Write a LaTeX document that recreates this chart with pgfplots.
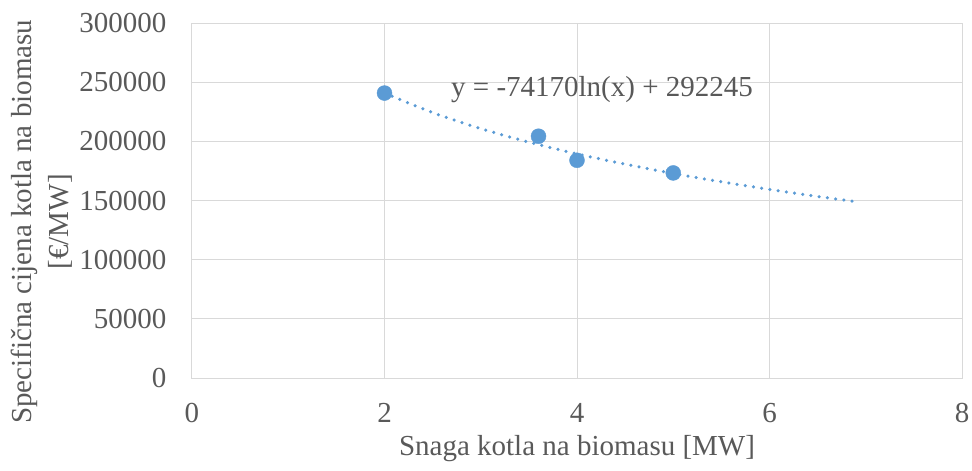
\documentclass[border=0pt]{standalone}
\usepackage{fontspec}
\setmainfont{Liberation Serif}
\usepackage{pgfplots}
\pgfplotsset{compat=1.18}
\definecolor{ptblue}{HTML}{5B9BD5}
\definecolor{gridgray}{HTML}{D9D9D9}
\definecolor{txtgray}{HTML}{595959}
\begin{document}
\begin{tikzpicture}
\begin{axis}[
  scale only axis, width=770bp, height=355bp,
  xmin=0, xmax=8, ymin=0, ymax=300000,
  xtick={0,2,4,6,8}, ytick={0,50000,100000,150000,200000,250000,300000},
  grid=major, major grid style={gridgray, line width=1bp},
  axis line style={gridgray, line width=1bp},
  major tick length=0pt,
  tick label style={font=\fontsize{29bp}{31bp}\selectfont, text=txtgray},
  xticklabel style={yshift=-22bp},
  yticklabel style={xshift=-22bp},
  /pgf/number format/fixed,
  /pgf/number format/assume math mode=true,
  /pgf/number format/1000 sep={},
  scaled y ticks=false,
  label style={font=\fontsize{29bp}{37bp}\selectfont, text=txtgray},
  xlabel={Snaga kotla na biomasu [MW]},
  xlabel style={at={(axis description cs:0.5,-0.2)}, anchor=center},
  ylabel={Specifična cijena kotla na biomasu\\{}[€/MW]},
  ylabel style={align=center, at={(axis description cs:-0.195,0.44)}, anchor=center},
  clip=false,
]
\addplot[ptblue, line width=3.5bp, line cap=round, dash pattern=on 0bp off 8.3bp, smooth]
 coordinates {(2,240834) (2.5,224284) (3,210761) (3.5,199328) (4,189424) (4.5,180688)
 (5,172873) (5.5,165804) (6,159350) (6.5,153413) (6.92,148769)};
\addplot[only marks, mark=*, mark size=7.5bp, color=ptblue, mark options={fill=ptblue, draw=ptblue}]
 coordinates {(2,240800) (3.6,204300) (4,184000) (5,173300)};
\node[text=txtgray, font=\fontsize{29bp}{31bp}\selectfont] at (axis cs:4.26,244000) {y = -74170ln(x) + 292245};
\end{axis}
\pgfresetboundingbox
\path ([shift={(-192bp,-92bp)}]current axis.south west) rectangle ([shift={(10bp,23bp)}]current axis.north east);
\end{tikzpicture}
\end{document}
